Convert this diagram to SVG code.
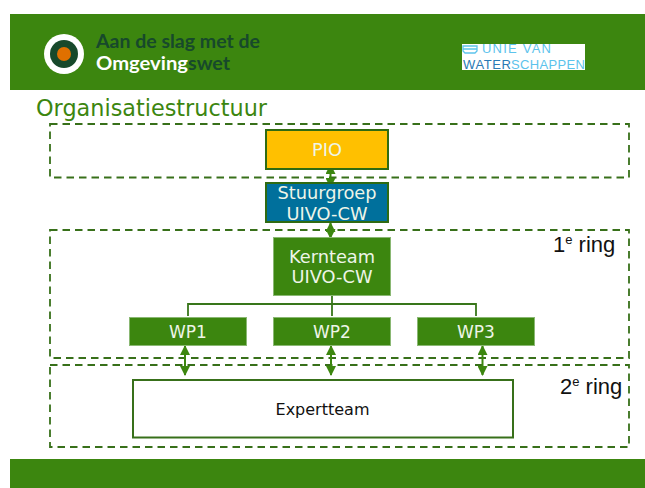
<svg xmlns="http://www.w3.org/2000/svg" width="645" height="488" viewBox="0 0 645 488">
<style>
.band{fill:#3c860f}
.ring{fill:none;stroke:#38701a;stroke-width:1.800;stroke-dasharray:7.500 5}
.box{fill:#3c860f;stroke:#8ab873;stroke-width:1}
.t{font-family:"DejaVu Sans",sans-serif;font-size:17.800px;fill:#eef5e8;text-anchor:middle}
.w{font-size:17px}
.r{font-family:"Liberation Sans",sans-serif;font-size:22px;fill:#111}
.r .s{font-size:13px}
.l{fill:none;stroke:#38761a;stroke-width:1.800}
.a{fill:none;stroke:#3c860f;stroke-width:2;marker-start:url(#ah);marker-end:url(#ah)}
.u{font-family:"Liberation Sans",sans-serif;font-size:13px}
.h{font-family:"Lato",sans-serif;font-weight:700;font-size:19px}
</style>
<defs>
<marker id="ah" viewBox="0 0 10 10" refX="9" refY="5" markerWidth="5" markerHeight="5" orient="auto-start-reverse"><path d="M0 0L10 5L0 10Z" fill="#3c860f"/></marker>
</defs>
<rect width="645" height="488" fill="#fff"/>
<g id="header">
<rect class="band" x="10" y="14" width="635" height="76"/>
<circle cx="64" cy="54" r="20" fill="#fff"/>
<circle cx="64" cy="54" r="14" fill="#17492b"/>
<circle cx="64" cy="54" r="7" fill="#e07000"/>
<text class="h" x="96" y="48" fill="#17492b" textLength="164" lengthAdjust="spacingAndGlyphs">Aan de slag met de</text>
<text class="h" x="96" y="70" fill="#fff" textLength="92" lengthAdjust="spacingAndGlyphs">Omgeving</text>
<text class="h" x="188" y="70" fill="#17492b" textLength="42" lengthAdjust="spacingAndGlyphs">swet</text>
<rect x="462" y="44" width="123" height="26" fill="#fff"/>
<path d="M463 46H477V51L475 53H465L463 51ZM463 49H477" fill="none" stroke="#5cc3ec" stroke-width="1.300"/>
<text class="u" x="482" y="53" fill="#5cc3ec" textLength="69">UNIE VAN</text>
<text class="u" x="463" y="69" fill="#2a7ab5" textLength="48">WATER</text>
<text class="u" x="511" y="69" fill="#5cc3ec" textLength="74">SCHAPPEN</text>
</g>
<text id="title" x="36" y="116" font-family="'DejaVu Sans',sans-serif" font-size="23" fill="#3c860f" textLength="231" lengthAdjust="spacingAndGlyphs">Organisatiestructuur</text>
<g id="ring-top"><rect class="ring" x="50" y="124" width="579" height="53.500"/></g>
<g id="ring-1"><rect class="ring" x="50" y="230" width="579" height="128"/>
<text class="r" x="553" y="252">1<tspan class="s" dy="-8">e</tspan><tspan dy="8"> ring</tspan></text></g>
<g id="ring-2"><rect class="ring" x="50" y="365" width="579" height="82"/>
<text class="r" x="560" y="394">2<tspan class="s" dy="-8">e</tspan><tspan dy="8"> ring</tspan></text></g>
<g id="connectors">
<path class="l" d="M188 316V304H476V316M332 296V316"/>
<path class="a" d="M330.500 165V187"/>
<path class="a" d="M330.500 223V238"/>
<path class="a" d="M185 346V375"/>
<path class="a" d="M331 346V375"/>
<path class="a" d="M482.500 346V375"/>
</g>
<g id="pio"><rect x="266" y="130" width="122" height="39" fill="#ffc000" stroke="#2f6b12" stroke-width="2"/><text class="t" x="327" y="156">PIO</text></g>
<g id="stuurgroep"><rect x="266" y="183" width="122" height="39" fill="#00709c" stroke="#2f6b12" stroke-width="2"/><text class="t" x="327" y="199">Stuurgroep</text><text class="t" x="327" y="220">UIVO-CW</text></g>
<g id="kernteam"><rect class="box" x="273.500" y="237.500" width="117" height="58"/><text class="t" x="332" y="263">Kernteam</text><text class="t" x="332" y="283">UIVO-CW</text></g>
<g id="wp1"><rect class="box" x="129.500" y="317.500" width="117" height="28"/><text class="t w" x="188" y="337.500">WP1</text></g>
<g id="wp2"><rect class="box" x="273.500" y="317.500" width="117" height="28"/><text class="t w" x="332" y="337.500">WP2</text></g>
<g id="wp3"><rect class="box" x="417.500" y="317.500" width="117" height="28"/><text class="t w" x="476" y="337.500">WP3</text></g>
<g id="expertteam"><rect x="133" y="380" width="380" height="57.500" fill="#fff" stroke="#38701a" stroke-width="2"/><text x="322.500" y="415" font-family="'DejaVu Sans',sans-serif" font-size="16" fill="#111" text-anchor="middle">Expertteam</text></g>
<rect id="footer" class="band" x="10" y="459" width="635" height="29"/>
</svg>
